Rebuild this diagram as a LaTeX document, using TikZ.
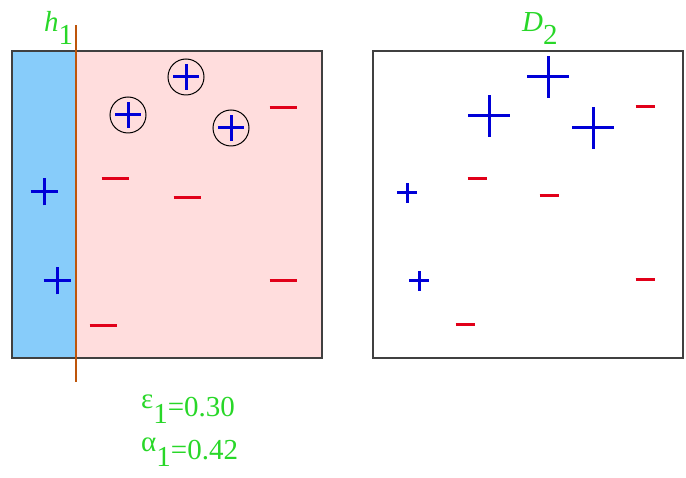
\documentclass[tikz,border=0pt]{standalone}
\usepackage{fontspec}
\setmainfont{Liberation Serif}
\definecolor{labelgreen}{RGB}{40,215,40}
\definecolor{posblue}{RGB}{0,0,215}
\definecolor{negred}{RGB}{225,0,25}
\definecolor{regionblue}{RGB}{135,204,250}
\definecolor{regionpink}{RGB}{255,221,221}
\definecolor{stumporange}{RGB}{190,85,10}
\newcommand{\lowsub}[1]{\raisebox{-0.42em}{#1}}
\newcommand{\weightsub}[1]{\raisebox{-0.22em}{#1}}
\newcommand{\greekup}[1]{\raisebox{0.3em}{#1}}

\begin{document}
\begin{tikzpicture}[x=1pt,y=1pt,
    boxline/.style={draw=black!75, line width=1.5pt},
    posmark/.style={posblue, line width=3pt},
    negmark/.style={negred, line width=3pt},
    lbl/.style={labelgreen, font=\fontsize{29}{32}\selectfont, inner sep=0pt}]
    \useasboundingbox (0,0) rectangle (686,477);

    % Left panel: regions of the stump
    \fill[regionblue] (12,119) rectangle (76,426);
    \fill[regionpink] (76,119) rectangle (322,426);
    \draw[boxline] (12,119) rectangle (322,426);

    % Decision stump h1
    \coordinate (stumptop) at (76,452);
    \coordinate (stumpbot) at (76,95);
    \draw[stumporange, line width=2.2pt] (stumpbot) -- (stumptop);
    \node[lbl, anchor=base west] (hlabel) at (44,445) {\textit{h}\lowsub{1}};

    % Misclassified positives (circled)
    \foreach \x/\y in {186/400, 128/362, 231/349} {
        \draw[black, line width=1pt] (\x,\y) circle (18);
        \draw[posmark] (\x-13,\y) -- (\x+13,\y) (\x,\y-13) -- (\x,\y+13);
    }

    % Correct positives
    \foreach \x/\y in {44/285, 57/196}
        \draw[posmark] (\x-13.5,\y) -- (\x+13.5,\y) (\x,\y-13.5) -- (\x,\y+13.5);

    % Negatives
    \foreach \x/\y in {283/369, 115/298, 187/279, 283/196, 103/151}
        \draw[negmark] (\x-13.5,\y) -- (\x+13.5,\y);

    % Error and weight
    \node[lbl, anchor=base west] (errlabel) at (141,60) {\greekup{ε}\weightsub{1}=0.30};
    \node[lbl, anchor=base west] (alphalabel) at (141,17) {\greekup{α}\weightsub{1}=0.42};

    % Right panel: reweighted D2
    \draw[boxline] (373,119) rectangle (683,426);
    \node[lbl, anchor=base west] (dlabel) at (522,445) {\textit{D}\lowsub{2}};

    % Up-weighted positives
    \foreach \x/\y in {548/400, 489/361, 593/349}
        \draw[posmark] (\x-21,\y) -- (\x+21,\y) (\x,\y-21) -- (\x,\y+21);

    % Down-weighted positives
    \foreach \x/\y in {407/284, 419/196}
        \draw[posmark] (\x-10,\y) -- (\x+10,\y) (\x,\y-10) -- (\x,\y+10);

    % Down-weighted negatives
    \foreach \x/\y in {645/370, 477/298, 549/281, 645/197, 465/152}
        \draw[negmark] (\x-9.5,\y) -- (\x+9.5,\y);
\end{tikzpicture}
\end{document}
